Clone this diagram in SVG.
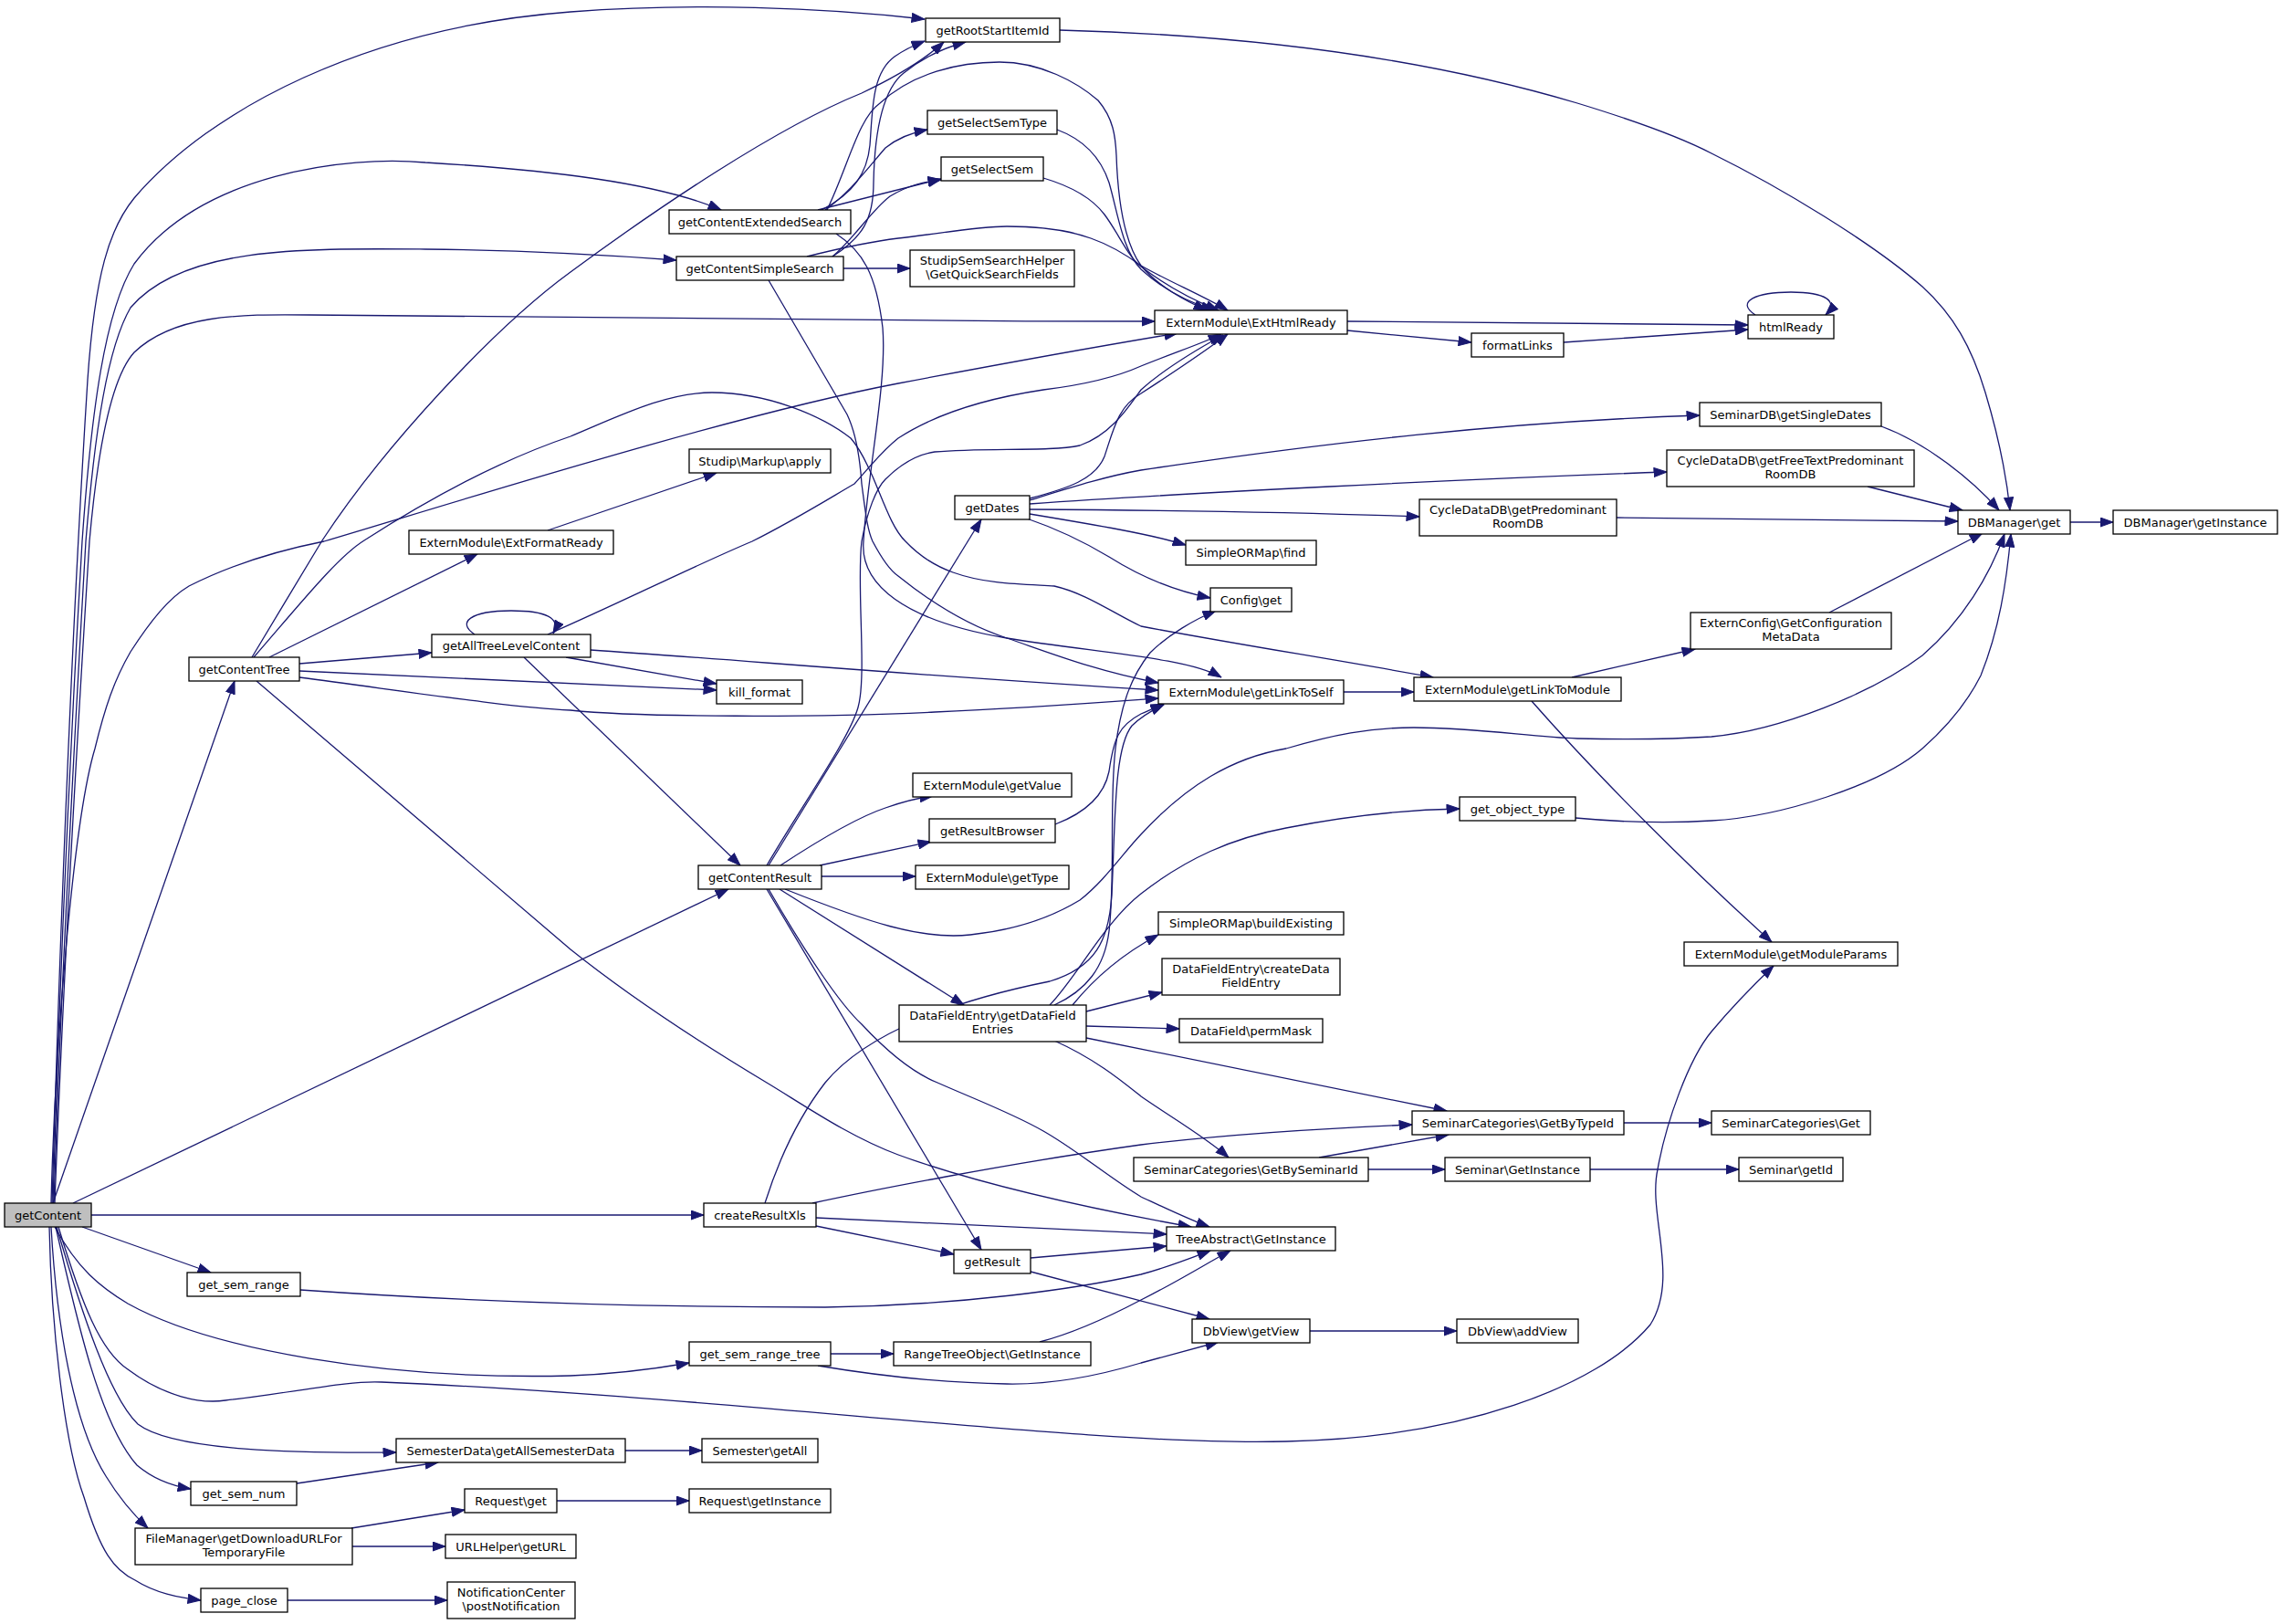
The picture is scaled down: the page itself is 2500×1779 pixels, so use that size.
<svg xmlns="http://www.w3.org/2000/svg" width="2500" height="1779" viewBox="0 0 2500 1779">
<style>
.n rect{fill:#fff;stroke:#000;stroke-width:1.3}
.n text{font-family:"DejaVu Sans",sans-serif;font-size:13px;text-anchor:middle;fill:#000}
.e path{fill:none;stroke:#191970;stroke-width:1.3;marker-end:url(#a)}
</style>
<defs>
<marker id="a" markerUnits="userSpaceOnUse" markerWidth="15" markerHeight="11" viewBox="0 0 15 11" refX="14.5" refY="5.5" orient="auto">
<path d="M0.5,0.5 L14.5,5.5 L0.5,10.5 z" fill="#191970" stroke="#191970"/>
</marker>
</defs>
<rect width="2500" height="1779" fill="#fff"/>
<g id="edges" class="e">
<path d="M57,1318 C65,1050 78,700 96,416 C104,300 120,250 147,217 C230,120 400,30 625,13 C760,3 900,8 1013,21"/>
<path d="M58,1318 C66,1050 78,800 90,593 C100,450 115,340 147,289 C220,190 380,170 466,178 C600,186 720,200 790,230"/>
<path d="M59,1318 C68,1050 82,800 94,593 C104,470 118,380 143,337 C200,270 330,272 466,273 C560,274 660,279 741,285"/>
<path d="M60,1318 C70,1050 85,800 98,593 C108,480 125,410 147,386 C190,345 260,344 339,345 C500,348 900,352 1265,352"/>
<path d="M56,1318 C60,1150 80,900 104,820 C115,775 125,745 143,714 C165,680 185,655 207,642 C260,615 320,600 355,593 C500,550 800,455 984,420 C1100,398 1200,380 1290,365"/>
<path d="M58,1318 L257,746"/>
<path d="M80,1318 L798,974"/>
<path d="M100,1331 L771,1331"/>
<path d="M90,1344 L231,1394"/>
<path d="M60,1344 C85,1390 110,1410 140,1428 C230,1478 420,1512 625,1507 C680,1505 720,1499 755,1493"/>
<path d="M64,1344 C90,1430 110,1480 140,1500 C180,1530 220,1538 247,1534 C320,1526 380,1512 418,1514 C800,1530 1200,1585 1409,1579 C1600,1575 1750,1520 1808,1451 C1840,1400 1805,1330 1816,1281 C1825,1230 1850,1160 1875,1130 C1900,1100 1920,1080 1943,1058"/>
<path d="M62,1344 C90,1440 120,1530 151,1560 C190,1590 330,1592 434,1591"/>
<path d="M61,1344 C85,1450 110,1560 150,1605 C170,1622 190,1628 209,1631"/>
<path d="M56,1344 C62,1450 80,1560 116,1617 C130,1640 145,1658 162,1674"/>
<path d="M54,1344 C56,1450 70,1580 92,1640 C110,1700 125,1720 148,1731 C170,1745 195,1750 220,1753"/>
<path d="M276,720 C300,680 330,630 353,592 C420,490 540,360 625,298 C720,228 850,140 944,102 C980,85 1010,68 1034,46"/>
<path d="M278,720 C330,660 370,610 399,592 C480,540 560,500 625,478 C680,455 730,430 780,430 C840,430 900,455 932,480 C945,495 950,510 956,522 C968,550 978,580 992,593 C1010,612 1030,622 1044,627 C1080,640 1120,640 1155,642 C1190,650 1220,672 1250,686 C1350,705 1460,722 1570,742"/>
<path d="M295,720 L523,607"/>
<path d="M328,727 L473,715"/>
<path d="M328,735 L785,756"/>
<path d="M328,742 C450,758 560,775 625,778 C700,786 900,786 1024,780 C1120,776 1200,770 1269,765"/>
<path d="M281,746 L625,1040 C700,1100 780,1150 840,1186 C880,1210 930,1245 984,1265 C1080,1300 1200,1325 1305,1344"/>
<path d="M520,695 C500,682 515,669 560,669 C598,669 615,677 606,694"/>
<path d="M600,695 C680,660 760,620 824,593 C870,570 910,545 936,530 C950,515 965,495 984,480 C1030,450 1090,435 1143,427 C1200,420 1230,410 1250,401 C1290,385 1320,375 1338,366"/>
<path d="M620,720 L785,749"/>
<path d="M647,712 C800,722 1000,740 1269,756"/>
<path d="M574,720 L811,948"/>
<path d="M900,230 C935,212 950,190 953,159 C956,120 955,80 980,62 C990,55 1000,50 1013,45"/>
<path d="M904,230 C930,212 950,185 970,162 C985,150 1000,145 1016,142"/>
<path d="M896,230 L1031,196"/>
<path d="M906,230 C930,180 940,130 964,113 C1000,80 1050,68 1095,68 C1140,68 1180,90 1203,110 C1220,130 1222,150 1223,170 C1225,230 1235,270 1250,291 C1270,315 1300,330 1322,340"/>
<path d="M916,256 C945,275 960,300 967,359 C972,420 950,520 946,593 C942,640 990,680 1103,699 C1200,715 1300,720 1338,742"/>
<path d="M912,281 C945,260 957,240 957,200 C958,150 965,100 990,80 C1010,64 1035,52 1058,46"/>
<path d="M912,281 C935,262 955,230 975,215 C995,203 1012,199 1031,197"/>
<path d="M884,281 C920,272 950,265 984,261 C1030,256 1070,248 1103,248 C1140,248 1170,252 1195,261 C1215,268 1235,280 1250,291 C1280,308 1320,325 1345,340"/>
<path d="M924,294 L997,294"/>
<path d="M842,307 L928,454 C938,475 942,500 944,530 C948,560 950,580 956,593 C965,610 975,625 984,631 C1020,660 1060,685 1103,699 C1150,715 1200,735 1269,748"/>
<path d="M1158,142 C1185,152 1205,170 1215,200 C1225,235 1230,275 1250,295 C1275,318 1305,332 1330,340"/>
<path d="M1143,195 C1170,203 1195,215 1210,235 C1225,255 1235,280 1250,292 C1280,315 1310,330 1335,340"/>
<path d="M1161,33 C1350,38 1550,60 1728,113 C1800,135 1850,155 1875,168 C1950,205 2050,265 2106,314 C2140,345 2160,380 2175,430 C2190,480 2198,520 2202,559"/>
<path d="M1476,352 L1915,356"/>
<path d="M1476,362 L1612,375"/>
<path d="M1713,375 L1915,361"/>
<path d="M1923,345 C1900,330 1925,320 1962,320 C2000,320 2015,330 2000,345"/>
<path d="M1128,548 C1170,535 1210,522 1250,515 C1450,485 1650,462 1862,455"/>
<path d="M1128,552 C1300,540 1600,525 1826,517"/>
<path d="M1128,558 C1300,559 1450,562 1555,566"/>
<path d="M1128,563 C1200,575 1260,585 1299,597"/>
<path d="M1125,568 C1160,580 1190,595 1215,610 C1250,632 1290,648 1326,655"/>
<path d="M1128,546 C1170,535 1200,525 1210,500 C1220,470 1225,445 1250,431 C1290,405 1320,385 1345,366"/>
<path d="M842,948 L1075,569"/>
<path d="M840,948 C880,880 930,810 940,775 C950,740 938,640 944,593 C950,560 960,535 970,525 C990,505 1010,497 1024,495 C1080,490 1150,495 1183,488 C1220,475 1240,440 1250,427 C1280,400 1320,378 1340,367"/>
<path d="M855,948 C890,925 940,895 970,885 C990,878 1005,874 1022,872"/>
<path d="M898,948 L1020,922"/>
<path d="M900,960 L1003,960"/>
<path d="M860,974 C950,1010 1010,1030 1063,1024 C1120,1018 1160,1000 1183,986 C1210,965 1230,935 1250,914 C1300,860 1350,830 1409,820 C1460,805 1500,797 1549,797 C1620,797 1680,808 1728,809 C1780,810 1830,810 1875,807 C1950,800 2050,760 2106,718 C2150,680 2180,630 2196,585"/>
<path d="M854,974 L1056,1101"/>
<path d="M840,974 L1075,1369"/>
<path d="M842,974 C880,1040 920,1100 944,1122 C970,1150 1000,1175 1027,1186 C1070,1205 1110,1220 1143,1239 C1180,1260 1215,1290 1250,1311 C1280,1325 1305,1337 1325,1344"/>
<path d="M1156,903 C1190,890 1210,870 1215,845 C1220,810 1225,795 1250,782 C1260,778 1268,774 1275,771"/>
<path d="M1472,758 L1549,758"/>
<path d="M1722,742 L1857,711"/>
<path d="M1678,768 C1750,850 1850,950 1941,1032"/>
<path d="M2004,671 L2172,584"/>
<path d="M1726,896 C1780,901 1830,902 1875,899 C1950,895 2060,860 2106,820 C2140,790 2160,760 2170,740 C2190,690 2198,640 2203,585"/>
<path d="M1150,1101 C1180,1070 1210,1010 1250,979 C1300,940 1350,918 1409,907 C1480,893 1540,887 1599,886"/>
<path d="M1175,1101 C1200,1070 1230,1045 1269,1024"/>
<path d="M1190,1108 L1273,1087"/>
<path d="M1190,1124 L1292,1127"/>
<path d="M1190,1137 L1585,1217"/>
<path d="M1155,1140 C1200,1160 1230,1185 1250,1201 C1280,1222 1320,1245 1346,1268"/>
<path d="M1155,1101 C1190,1085 1210,1060 1215,1020 C1222,960 1215,880 1222,820 C1228,770 1240,740 1260,715 C1280,695 1310,678 1332,669"/>
<path d="M890,1318 C950,1305 1100,1275 1250,1254 C1350,1242 1450,1236 1547,1232"/>
<path d="M894,1334 L1278,1352"/>
<path d="M894,1343 L1045,1374"/>
<path d="M838,1318 C850,1280 870,1230 904,1186 C950,1130 1050,1095 1150,1075 C1200,1060 1215,1030 1218,980 C1222,900 1220,820 1240,795 C1250,785 1262,778 1275,772"/>
<path d="M1129,1378 L1278,1365"/>
<path d="M1129,1393 L1325,1445"/>
<path d="M329,1413 C500,1425 700,1432 904,1432 C1050,1430 1180,1412 1250,1396 C1280,1388 1305,1378 1326,1370"/>
<path d="M910,1483 L979,1483"/>
<path d="M896,1496 C950,1505 1030,1515 1103,1516 C1160,1517 1210,1505 1250,1493 C1280,1485 1310,1477 1335,1470"/>
<path d="M1139,1470 C1170,1462 1210,1445 1250,1424 C1290,1404 1320,1385 1348,1370"/>
<path d="M1435,1458 L1596,1458"/>
<path d="M1779,1230 L1875,1230"/>
<path d="M1445,1268 L1587,1243"/>
<path d="M1499,1281 L1583,1281"/>
<path d="M1742,1281 L1905,1281"/>
<path d="M685,1589 L769,1589"/>
<path d="M325,1625 L480,1602"/>
<path d="M610,1644 L755,1644"/>
<path d="M385,1674 L509,1654"/>
<path d="M386,1694 L488,1694"/>
<path d="M315,1753 L490,1753"/>
<path d="M600,581 L785,518"/>
<path d="M2046,533 L2150,559"/>
<path d="M1771,567 L2145,571"/>
<path d="M2061,467 C2110,485 2160,525 2190,559"/>
<path d="M2268,572 L2315,572"/>
</g>
<g id="n1" class="n"><rect x="5" y="1318" width="95" height="26" style="fill:#bfbfbf"/><text x="52.5" y="1335.5">getContent</text></g>
<g id="n2" class="n"><rect x="1014" y="20" width="147" height="26"/><text x="1087.5" y="37.5">getRootStartItemId</text></g>
<g id="n3" class="n"><rect x="1016" y="121" width="142" height="26"/><text x="1087" y="138.5">getSelectSemType</text></g>
<g id="n4" class="n"><rect x="1031" y="172" width="112" height="26"/><text x="1087" y="189.5">getSelectSem</text></g>
<g id="n5" class="n"><rect x="733" y="230" width="199" height="26"/><text x="832.5" y="247.5">getContentExtendedSearch</text></g>
<g id="n6" class="n"><rect x="741" y="281" width="183" height="26"/><text x="832.5" y="298.5">getContentSimpleSearch</text></g>
<g id="n7" class="n"><rect x="997" y="274" width="180" height="40"/><text x="1087" y="290">StudipSemSearchHelper</text><text x="1087" y="305">\GetQuickSearchFields</text></g>
<g id="n8" class="n"><rect x="1265" y="340" width="211" height="26"/><text x="1370.5" y="357.5">ExternModule\ExtHtmlReady</text></g>
<g id="n9" class="n"><rect x="1612" y="365" width="101" height="26"/><text x="1662.5" y="382.5">formatLinks</text></g>
<g id="n10" class="n"><rect x="1915" y="345" width="94" height="26"/><text x="1962" y="362.5">htmlReady</text></g>
<g id="n11" class="n"><rect x="1862" y="441" width="199" height="26"/><text x="1961.5" y="458.5">SeminarDB\getSingleDates</text></g>
<g id="n12" class="n"><rect x="1826" y="493" width="271" height="40"/><text x="1961.5" y="509">CycleDataDB\getFreeTextPredominant</text><text x="1961.5" y="524">RoomDB</text></g>
<g id="n13" class="n"><rect x="1555" y="547" width="216" height="40"/><text x="1663" y="563">CycleDataDB\getPredominant</text><text x="1663" y="578">RoomDB</text></g>
<g id="n14" class="n"><rect x="2145" y="559" width="123" height="26"/><text x="2206.5" y="576.5">DBManager\get</text></g>
<g id="n15" class="n"><rect x="2315" y="559" width="180" height="26"/><text x="2405" y="576.5">DBManager\getInstance</text></g>
<g id="n16" class="n"><rect x="755" y="492" width="155" height="26"/><text x="832.5" y="509.5">Studip\Markup\apply</text></g>
<g id="n17" class="n"><rect x="1046" y="543" width="82" height="26"/><text x="1087" y="560.5">getDates</text></g>
<g id="n18" class="n"><rect x="448" y="581" width="224" height="26"/><text x="560" y="598.5">ExternModule\ExtFormatReady</text></g>
<g id="n19" class="n"><rect x="1299" y="592" width="143" height="27"/><text x="1370.5" y="610">SimpleORMap\find</text></g>
<g id="n20" class="n"><rect x="1326" y="644" width="89" height="26"/><text x="1370.5" y="661.5">Config\get</text></g>
<g id="n21" class="n"><rect x="473" y="695" width="174" height="25"/><text x="560" y="712">getAllTreeLevelContent</text></g>
<g id="n22" class="n"><rect x="207" y="720" width="121" height="26"/><text x="267.5" y="737.5">getContentTree</text></g>
<g id="n23" class="n"><rect x="1852" y="671" width="220" height="40"/><text x="1962" y="687">ExternConfig\GetConfiguration</text><text x="1962" y="702">MetaData</text></g>
<g id="n24" class="n"><rect x="785" y="745" width="94" height="26"/><text x="832" y="762.5">kill_format</text></g>
<g id="n25" class="n"><rect x="1269" y="745" width="203" height="26"/><text x="1370.5" y="762.5">ExternModule\getLinkToSelf</text></g>
<g id="n26" class="n"><rect x="1549" y="742" width="227" height="26"/><text x="1662.5" y="759.5">ExternModule\getLinkToModule</text></g>
<g id="n27" class="n"><rect x="1000" y="847" width="174" height="26"/><text x="1087" y="864.5">ExternModule\getValue</text></g>
<g id="n28" class="n"><rect x="1599" y="873" width="127" height="26"/><text x="1662.5" y="890.5">get_object_type</text></g>
<g id="n29" class="n"><rect x="1018" y="897" width="138" height="26"/><text x="1087" y="914.5">getResultBrowser</text></g>
<g id="n30" class="n"><rect x="765" y="948" width="135" height="26"/><text x="832.5" y="965.5">getContentResult</text></g>
<g id="n31" class="n"><rect x="1003" y="948" width="168" height="26"/><text x="1087" y="965.5">ExternModule\getType</text></g>
<g id="n32" class="n"><rect x="1269" y="999" width="203" height="25"/><text x="1370.5" y="1016">SimpleORMap\buildExisting</text></g>
<g id="n33" class="n"><rect x="1273" y="1050" width="195" height="40"/><text x="1370.5" y="1066">DataFieldEntry\createData</text><text x="1370.5" y="1081">FieldEntry</text></g>
<g id="n34" class="n"><rect x="1845" y="1032" width="234" height="26"/><text x="1962" y="1049.5">ExternModule\getModuleParams</text></g>
<g id="n35" class="n"><rect x="985" y="1101" width="205" height="40"/><text x="1087.5" y="1117">DataFieldEntry\getDataField</text><text x="1087.5" y="1132">Entries</text></g>
<g id="n36" class="n"><rect x="1292" y="1116" width="157" height="26"/><text x="1370.5" y="1133.5">DataField\permMask</text></g>
<g id="n37" class="n"><rect x="1547" y="1217" width="232" height="26"/><text x="1663" y="1234.5">SeminarCategories\GetByTypeId</text></g>
<g id="n38" class="n"><rect x="1875" y="1217" width="174" height="26"/><text x="1962" y="1234.5">SeminarCategories\Get</text></g>
<g id="n39" class="n"><rect x="1242" y="1268" width="257" height="26"/><text x="1370.5" y="1285.5">SeminarCategories\GetBySeminarId</text></g>
<g id="n40" class="n"><rect x="1583" y="1268" width="159" height="26"/><text x="1662.5" y="1285.5">Seminar\GetInstance</text></g>
<g id="n41" class="n"><rect x="1905" y="1268" width="114" height="26"/><text x="1962" y="1285.5">Seminar\getId</text></g>
<g id="n42" class="n"><rect x="771" y="1318" width="123" height="26"/><text x="832.5" y="1335.5">createResultXls</text></g>
<g id="n43" class="n"><rect x="1278" y="1344" width="185" height="26"/><text x="1370.5" y="1361.5">TreeAbstract\GetInstance</text></g>
<g id="n44" class="n"><rect x="1045" y="1369" width="84" height="26"/><text x="1087" y="1386.5">getResult</text></g>
<g id="n45" class="n"><rect x="205" y="1394" width="124" height="26"/><text x="267" y="1411.5">get_sem_range</text></g>
<g id="n46" class="n"><rect x="1306" y="1445" width="129" height="26"/><text x="1370.5" y="1462.5">DbView\getView</text></g>
<g id="n47" class="n"><rect x="1596" y="1445" width="133" height="26"/><text x="1662.5" y="1462.5">DbView\addView</text></g>
<g id="n48" class="n"><rect x="755" y="1470" width="155" height="26"/><text x="832.5" y="1487.5">get_sem_range_tree</text></g>
<g id="n49" class="n"><rect x="979" y="1470" width="216" height="26"/><text x="1087" y="1487.5">RangeTreeObject\GetInstance</text></g>
<g id="n50" class="n"><rect x="434" y="1576" width="251" height="26"/><text x="559.5" y="1593.5">SemesterData\getAllSemesterData</text></g>
<g id="n51" class="n"><rect x="769" y="1576" width="127" height="26"/><text x="832.5" y="1593.5">Semester\getAll</text></g>
<g id="n52" class="n"><rect x="209" y="1623" width="116" height="26"/><text x="267" y="1640.5">get_sem_num</text></g>
<g id="n53" class="n"><rect x="509" y="1631" width="101" height="26"/><text x="559.5" y="1648.5">Request\get</text></g>
<g id="n54" class="n"><rect x="755" y="1631" width="155" height="26"/><text x="832.5" y="1648.5">Request\getInstance</text></g>
<g id="n55" class="n"><rect x="148" y="1674" width="238" height="40"/><text x="267" y="1690">FileManager\getDownloadURLFor</text><text x="267" y="1705">TemporaryFile</text></g>
<g id="n56" class="n"><rect x="488" y="1681" width="143" height="26"/><text x="559.5" y="1698.5">URLHelper\getURL</text></g>
<g id="n57" class="n"><rect x="220" y="1740" width="95" height="26"/><text x="267.5" y="1757.5">page_close</text></g>
<g id="n58" class="n"><rect x="490" y="1733" width="140" height="40"/><text x="560" y="1749">NotificationCenter</text><text x="560" y="1764">\postNotification</text></g>
</svg>
